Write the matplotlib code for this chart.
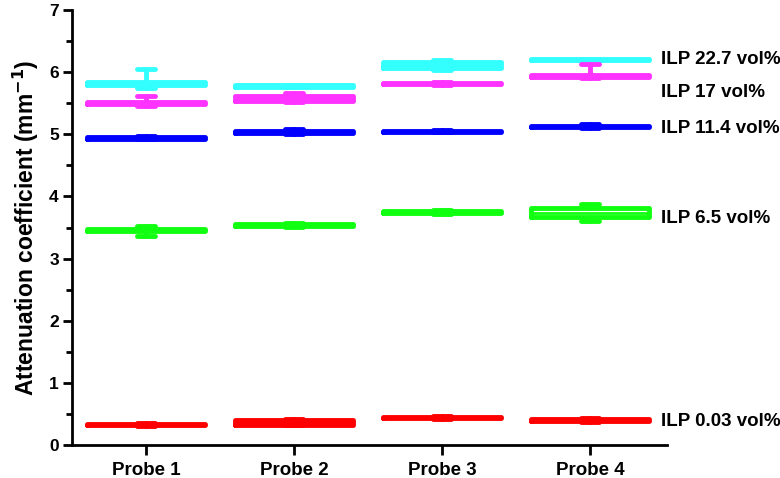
import matplotlib.pyplot as plt

probes = ["Probe 1", "Probe 2", "Probe 3", "Probe 4"]
labels = ["ILP 22.7 vol%", "ILP 17 vol%", "ILP 11.4 vol%", "ILP 6.5 vol%", "ILP 0.03 vol%"]
colors = ["#33ffff", "#ff33ff", "#0000ff", "#11ff11", "#ff0000"]
label_y = [6.2, 5.68, 5.1, 3.65, 0.38]

# box stats per probe (rows) and series (columns)
q1 = [[5.80, 5.48, 4.93, 3.44, 0.32],
      [5.76, 5.53, 5.02, 3.52, 0.33],
      [6.07, 5.81, 5.04, 3.73, 0.43],
      [6.19, 5.92, 5.11, 3.67, 0.38]]
med = [[5.82, 5.50, 4.94, 3.46, 0.33],
       [5.78, 5.58, 5.04, 3.54, 0.37],
       [6.12, 5.82, 5.05, 3.75, 0.44],
       [6.20, 5.94, 5.13, 3.74, 0.40]]
q3 = [[5.84, 5.52, 4.96, 3.48, 0.34],
      [5.79, 5.62, 5.06, 3.56, 0.41],
      [6.17, 5.83, 5.06, 3.77, 0.45],
      [6.21, 5.96, 5.14, 3.82, 0.42]]
lo = [[5.74, 5.46, 4.92, 3.37, 0.31],
      [5.76, 5.52, 5.01, 3.51, 0.32],
      [6.03, 5.80, 5.03, 3.71, 0.42],
      [6.18, 5.90, 5.10, 3.60, 0.37]]
hi = [[6.05, 5.62, 4.97, 3.52, 0.36],
      [5.80, 5.66, 5.08, 3.58, 0.42],
      [6.20, 5.84, 5.07, 3.78, 0.46],
      [6.22, 6.13, 5.16, 3.88, 0.43]]

plt.rcParams['font.family'] = ['Liberation Sans', 'DejaVu Sans']
plt.rcParams['font.weight'] = 'bold'

fig = plt.figure(figsize=(7.8, 4.78), dpi=100)
ax = fig.add_axes([0.0923, 0.069, 0.763, 0.91])

for s, color in enumerate(colors):
    stats = []
    for p in range(len(probes)):
        stats.append({"q1": q1[p][s], "med": med[p][s], "q3": q3[p][s],
                      "whislo": lo[p][s], "whishi": hi[p][s], "fliers": []})
    props = dict(color=color, linewidth=3.5, solid_capstyle="round", solid_joinstyle="round")
    ax.bxp(stats, positions=range(1, len(probes) + 1), widths=0.8, showfliers=False,
           boxprops=props, medianprops=dict(color=color, linewidth=2),
           whiskerprops=props, capprops=props, capwidths=0.12)

for lab, y in zip(labels, label_y):
    ax.text(4.48, y, lab, fontsize=13.5, fontweight="bold", va="center", ha="left", clip_on=False)

ax.set_xlim(0.5, 4.52)
ax.set_ylim(0, 7)
ax.set_xticks(range(1, len(probes) + 1))
ax.set_xticklabels(probes, fontsize=13.5, fontweight="bold")
ax.set_yticks(range(0, 8))
ax.set_yticks([i + 0.5 for i in range(7)], minor=True)
ax.tick_params(axis="y", labelsize=12.5, width=2, length=6.5, pad=3)
ax.tick_params(axis="y", which="minor", width=2, length=4)
ax.tick_params(axis="x", width=2, length=7, pad=5)
ax.set_ylabel("Attenuation coefficient (mm$^{\\mathbf{-1}}$)", fontsize=16.5, fontweight="bold", labelpad=6)
for side in ["top", "right"]:
    ax.spines[side].set_visible(False)
for side in ["left", "bottom"]:
    ax.spines[side].set_linewidth(2)

fig.savefig("out.png", dpi=100)
